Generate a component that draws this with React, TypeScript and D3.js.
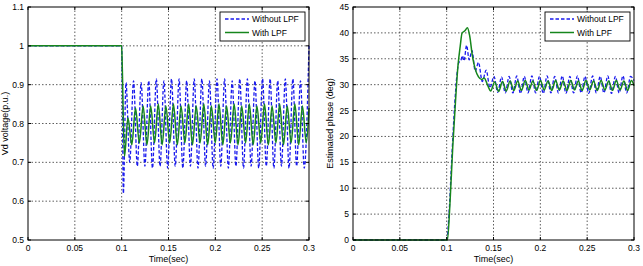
import * as d3 from "d3";

// Time axis shared by both panels (seconds)
const timeTicks = [0, 0.05, 0.1, 0.15, 0.2, 0.25, 0.3];
const vdTicks = [0.5, 0.6, 0.7, 0.8, 0.9, 1, 1.1];
const phaseTicks = [0, 5, 10, 15, 20, 25, 30, 35, 40, 45];

const seriesNames = ["Without LPF", "With LPF"];

// d-axis voltage, no filter (p.u.)
const vdRawT = [
  0, 0.1, 0.1006, 0.1018, 0.1046, 0.1086, 0.1127, 0.1167, 0.1208, 0.1248, 0.1289, 0.1329,
  0.137, 0.141, 0.1451, 0.1491, 0.1532, 0.1572, 0.1613, 0.1653, 0.1694, 0.1734, 0.1775,
  0.1815, 0.1856, 0.1896, 0.1937, 0.1977, 0.2018, 0.2058, 0.2099, 0.2139, 0.218, 0.222,
  0.2261, 0.2301, 0.2342, 0.2382, 0.2423, 0.2463, 0.2504, 0.2544, 0.2585, 0.2625, 0.2666,
  0.2706, 0.2747, 0.2787, 0.2828, 0.2868, 0.2909, 0.2949, 0.3,
];
const vdRaw = [
  1, 1, 0.9, 0.62, 0.905, 0.7, 0.91, 0.69, 0.905, 0.69, 0.91, 0.685, 0.915, 0.69, 0.91,
  0.685, 0.915, 0.69, 0.915, 0.685, 0.91, 0.69, 0.915, 0.685, 0.915, 0.69, 0.91, 0.685,
  0.915, 0.69, 0.915, 0.685, 0.91, 0.69, 0.915, 0.685, 0.915, 0.69, 0.91, 0.685, 0.915,
  0.69, 0.915, 0.685, 0.91, 0.69, 0.915, 0.685, 0.915, 0.69, 0.91, 0.685, 1,
];

// d-axis voltage, with low-pass filter (p.u.)
const vdLpfT = [
  0, 0.1, 0.1006, 0.103, 0.1067, 0.1108, 0.1148, 0.1189, 0.1229, 0.127, 0.131, 0.1351,
  0.1391, 0.1432, 0.1472, 0.1513, 0.1553, 0.1594, 0.1634, 0.1675, 0.1715, 0.1756, 0.1796,
  0.1837, 0.1877, 0.1918, 0.1958, 0.1999, 0.2039, 0.208, 0.212, 0.2161, 0.2201, 0.2242,
  0.2282, 0.2323, 0.2363, 0.2404, 0.2444, 0.2485, 0.2525, 0.2566, 0.2606, 0.2647, 0.2687,
  0.2728, 0.2768, 0.2809, 0.2849, 0.289, 0.293, 0.2971, 0.3,
];
const vdLpf = [
  1, 1, 0.95, 0.715, 0.815, 0.745, 0.84, 0.75, 0.845, 0.745, 0.845, 0.75, 0.85, 0.745,
  0.845, 0.75, 0.85, 0.745, 0.845, 0.75, 0.85, 0.745, 0.845, 0.75, 0.85, 0.745, 0.845,
  0.75, 0.85, 0.745, 0.845, 0.75, 0.85, 0.745, 0.845, 0.75, 0.85, 0.745, 0.845, 0.75,
  0.85, 0.745, 0.845, 0.75, 0.85, 0.745, 0.845, 0.75, 0.85, 0.745, 0.845, 0.75, 0.84,
];

// Estimated phase, no filter (deg)
const phRawT = [
  0, 0.1, 0.1025, 0.1055, 0.1085, 0.111, 0.113, 0.115, 0.1168, 0.1185, 0.1213, 0.124,
  0.127, 0.1305, 0.134, 0.138, 0.1422, 0.1462, 0.1505, 0.1545, 0.1586, 0.1626, 0.1667,
  0.1707, 0.1748, 0.1788, 0.1829, 0.1869, 0.191, 0.195, 0.1991, 0.2031, 0.2072, 0.2112,
  0.2153, 0.2193, 0.2234, 0.2274, 0.2315, 0.2355, 0.2396, 0.2436, 0.2477, 0.2517, 0.2558,
  0.2598, 0.2639, 0.2679, 0.272, 0.276, 0.2801, 0.2841, 0.2882, 0.2922, 0.2963, 0.3,
];
const phRaw = [
  0, 0, 5, 16, 26, 32, 34.3, 34.6, 35.6, 34.6, 37.6, 34.8, 36.6, 32.6, 34.3, 30.6, 32.8,
  29.4, 31.6, 28.5, 31.5, 28.4, 31.6, 28.4, 31.7, 28.3, 31.6, 28.4, 31.7, 28.4, 31.6, 28.3,
  31.7, 28.4, 31.6, 28.4, 31.7, 28.3, 31.6, 28.4, 31.7, 28.4, 31.6, 28.3, 31.7, 28.4, 31.6,
  28.4, 31.7, 28.3, 31.6, 28.4, 31.7, 28.4, 31.6, 30.8,
];

// Estimated phase, with low-pass filter (deg)
const phLpfT = [
  0, 0.1008, 0.1035, 0.1065, 0.1095, 0.112, 0.1145, 0.1165, 0.1195, 0.1222, 0.1245,
  0.1275, 0.1305, 0.134, 0.1375, 0.14, 0.1435, 0.147, 0.1512, 0.1555, 0.1596, 0.1636,
  0.1677, 0.1717, 0.1758, 0.1798, 0.1839, 0.1879, 0.192, 0.196, 0.2001, 0.2041, 0.2082,
  0.2122, 0.2163, 0.2203, 0.2244, 0.2284, 0.2325, 0.2365, 0.2406, 0.2446, 0.2487, 0.2527,
  0.2568, 0.2608, 0.2649, 0.2689, 0.273, 0.277, 0.2811, 0.2851, 0.2892, 0.2932, 0.2973, 0.3,
];
const phLpf = [
  0, 0, 7, 18, 27, 33.5, 37.5, 40, 40.4, 41, 39.5, 35.5, 33, 31.5, 31, 31.3, 30, 28.8, 30.5,
  28.7, 30.6, 28.8, 30.7, 28.9, 30.7, 28.9, 30.8, 29, 30.7, 28.9, 30.8, 29, 30.7, 28.9,
  30.8, 29, 30.7, 28.9, 30.8, 29, 30.7, 28.9, 30.8, 29, 30.7, 28.9, 30.8, 29, 30.7, 28.9,
  30.8, 29, 30.7, 28.9, 30.8, 29.8,
];

const BLUE = "#1a1aee";
const GREEN = "#16861c";
const FONT = "'Liberation Sans', Arial, sans-serif";

type Series = { t: number[]; v: number[]; color: string; dash?: string; width: number };

type PanelProps = {
  left: number;
  right: number;
  top: number;
  bottom: number;
  yDomain: [number, number];
  yTicks: number[];
  yLabel: string;
  yLabelX: number;
  series: Series[];
};

function Panel({ left, right, top, bottom, yDomain, yTicks, yLabel, yLabelX, series }: PanelProps) {
  const x = d3.scaleLinear().domain([0, 0.3]).range([left, right]);
  const y = d3.scaleLinear().domain(yDomain).range([bottom, top]);
  const fmt = (v: number) => String(+v.toFixed(2));
  const tick = 3;

  const legendW = 85;
  const legendX = right - legendW - 4;
  const legendY = 12;

  return (
    <g>
      <rect x={left} y={top} width={right - left} height={bottom - top} fill="#fff" />

      {/* dotted grid */}
      {timeTicks.slice(1, -1).map((t) => (
        <line key={"gx" + t} x1={x(t)} x2={x(t)} y1={top} y2={bottom}
          stroke="#333" strokeWidth={0.8} strokeDasharray="1.5,2" />
      ))}
      {yTicks.slice(1, -1).map((v) => (
        <line key={"gy" + v} x1={left} x2={right} y1={y(v)} y2={y(v)}
          stroke="#333" strokeWidth={0.8} strokeDasharray="1.5,2" />
      ))}

      {series.map((s, i) => {
        const pts = s.t.map((t, j) => [t, s.v[j]] as [number, number]);
        const line = d3.line<[number, number]>()
          .x((d) => x(d[0]))
          .y((d) => y(d[1]))
          .curve(d3.curveMonotoneX);
        return (
          <path key={i} d={line(pts) ?? ""} fill="none" stroke={s.color}
            strokeWidth={s.width} strokeDasharray={s.dash} strokeLinejoin="round" />
        );
      })}

      {/* inward ticks on all four sides */}
      {timeTicks.map((t) => (
        <g key={"tx" + t}>
          <line x1={x(t)} x2={x(t)} y1={bottom} y2={bottom - tick} stroke="#000" />
          <line x1={x(t)} x2={x(t)} y1={top} y2={top + tick} stroke="#000" />
          <text x={x(t)} y={251} textAnchor="middle" fontSize={8.5} fontFamily={FONT}>{fmt(t)}</text>
        </g>
      ))}
      {yTicks.map((v) => (
        <g key={"ty" + v}>
          <line x1={left} x2={left + tick} y1={y(v)} y2={y(v)} stroke="#000" />
          <line x1={right} x2={right - tick} y1={y(v)} y2={y(v)} stroke="#000" />
          <text x={left - 4} y={y(v) + 3} textAnchor="end" fontSize={8.5} fontFamily={FONT}>{fmt(v)}</text>
        </g>
      ))}

      <rect x={left} y={top} width={right - left} height={bottom - top} fill="none" stroke="#000" strokeWidth={1} />

      <text x={(left + right) / 2} y={262} textAnchor="middle" fontSize={9} fontFamily={FONT}>Time(sec)</text>
      <text transform={`translate(${yLabelX},${(top + bottom) / 2}) rotate(-90)`} textAnchor="middle"
        fontSize={9} fontFamily={FONT}>{yLabel}</text>

      {/* legend */}
      <rect x={legendX} y={legendY} width={legendW} height={29} fill="#fff" stroke="#000" strokeWidth={0.9} />
      {series.map((s, i) => (
        <g key={"lg" + i}>
          <line x1={legendX + 5} x2={legendX + 29} y1={legendY + 7 + i * 13.5} y2={legendY + 7 + i * 13.5}
            stroke={s.color} strokeWidth={s.width} strokeDasharray={s.dash} />
          <text x={legendX + 32} y={legendY + 10 + i * 13.5} fontSize={8.5} fontFamily={FONT}>{seriesNames[i]}</text>
        </g>
      ))}
    </g>
  );
}

export default function App() {
  return (
    <>
      <style>{"body{margin:0}"}</style>
      <svg width={643} height={266} style={{ display: "block", background: "#fff" }}>
        <Panel left={28} right={309} top={7} bottom={240} yDomain={[0.5, 1.1]} yTicks={vdTicks}
          yLabel="Vd voltage(p.u.)" yLabelX={8}
          series={[
            { t: vdRawT, v: vdRaw, color: BLUE, dash: "3.5,2", width: 1.3 },
            { t: vdLpfT, v: vdLpf, color: GREEN, width: 1.5 },
          ]} />
        <Panel left={353} right={634} top={7} bottom={240} yDomain={[0, 45]} yTicks={phaseTicks}
          yLabel="Estimated phase (deg)" yLabelX={333}
          series={[
            { t: phRawT, v: phRaw, color: BLUE, dash: "3.5,2", width: 1.3 },
            { t: phLpfT, v: phLpf, color: GREEN, width: 1.5 },
          ]} />
      </svg>
    </>
  );
}
